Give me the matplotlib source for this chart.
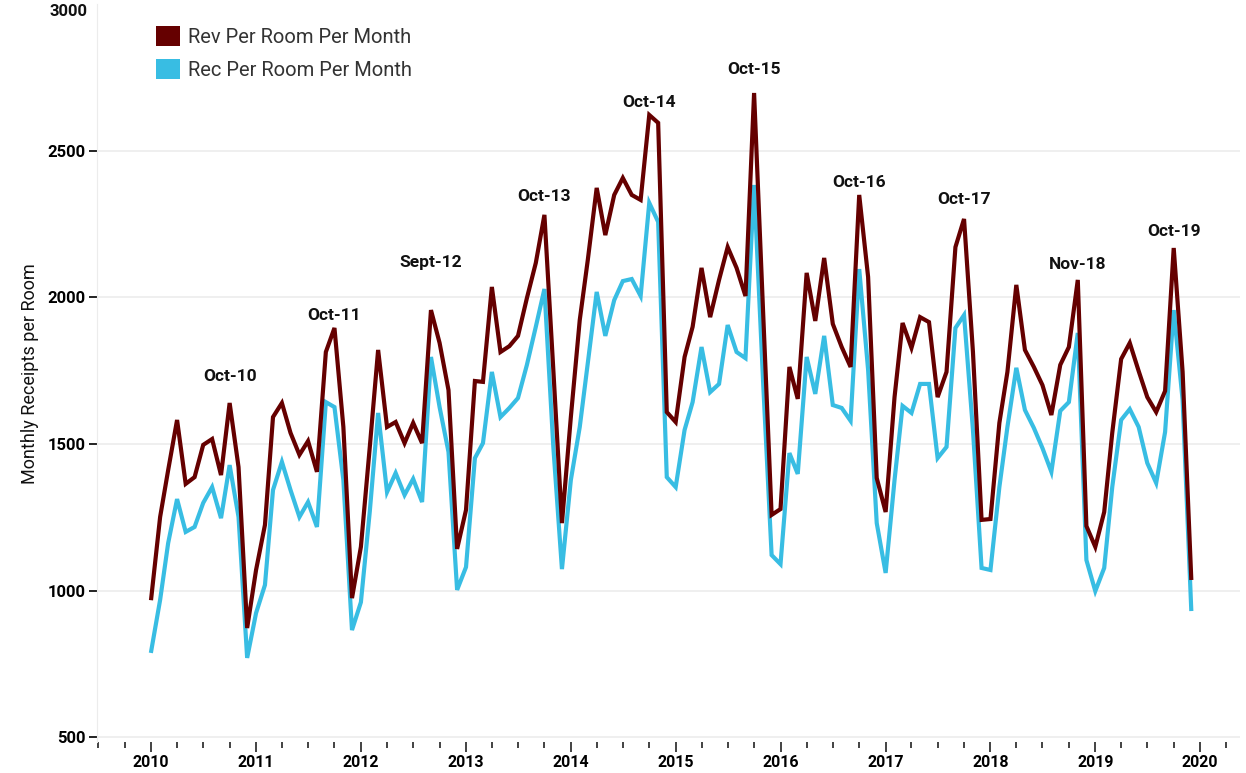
import matplotlib
matplotlib.use("Agg")
import matplotlib.pyplot as plt
import matplotlib.dates as mdates
from matplotlib.patches import Patch
import pandas as pd

# monthly values, Jan 2010 .. Dec 2019
months = pd.date_range("2010-01-01", periods=120, freq="MS")

rev = [
    974, 1251, 1411, 1582, 1364, 1387, 1497, 1517, 1394, 1640, 1421, 872,      # 2010
    1070, 1224, 1592, 1640, 1538, 1463, 1510, 1405, 1814, 1896, 1558, 974,     # 2011
    1149, 1490, 1821, 1558, 1575, 1503, 1572, 1503, 1957, 1845, 1684, 1142,    # 2012
    1275, 1715, 1712, 2036, 1814, 1834, 1869, 1998, 2118, 2282, 1753, 1230,    # 2013
    1592, 1923, 2128, 2374, 2213, 2350, 2408, 2350, 2333, 2623, 2596, 1609,    # 2014
    1575, 1797, 1900, 2101, 1933, 2060, 2172, 2101, 2005, 2698, 1960, 1258,    # 2015
    1278, 1763, 1654, 2084, 1920, 2135, 1910, 1831, 1763, 2350, 2070, 1384,    # 2016
    1268, 1660, 1913, 1828, 1933, 1916, 1660, 1746, 2172, 2268, 1814, 1241,    # 2017
    1244, 1572, 1746, 2043, 1821, 1763, 1701, 1599, 1770, 1831, 2060, 1220,    # 2018
    1149, 1268, 1538, 1790, 1845, 1749, 1660, 1609, 1681, 2169, 1746, 1043,    # 2019
]

rec = [
    794, 968, 1162, 1312, 1200, 1217, 1299, 1353, 1247, 1428, 1251, 770,       # 2010
    923, 1019, 1343, 1439, 1343, 1251, 1302, 1217, 1643, 1626, 1377, 865,      # 2011
    960, 1270, 1606, 1336, 1401, 1326, 1381, 1302, 1797, 1626, 1473, 1002,     # 2012
    1080, 1452, 1503, 1746, 1592, 1623, 1657, 1770, 1900, 2029, 1490, 1073,    # 2013
    1377, 1558, 1776, 2019, 1869, 1991, 2056, 2063, 2005, 2323, 2258, 1387,    # 2014
    1353, 1548, 1643, 1831, 1677, 1705, 1906, 1814, 1793, 2384, 1720, 1121,    # 2015
    1090, 1469, 1398, 1797, 1671, 1869, 1633, 1623, 1579, 2097, 1753, 1230,    # 2016
    1060, 1377, 1630, 1606, 1705, 1705, 1452, 1490, 1896, 1940, 1548, 1077,    # 2017
    1070, 1353, 1558, 1760, 1616, 1555, 1486, 1405, 1613, 1643, 1879, 1104,    # 2018
    998, 1077, 1353, 1582, 1619, 1558, 1435, 1367, 1541, 1957, 1650, 937,      # 2019
]

# peak labels: month, text, height of the text
peak_months = ["2010-10", "2011-10", "2012-09", "2013-10", "2014-10",
               "2015-10", "2016-10", "2017-10", "2018-11", "2019-10"]
peak_labels = ["Oct-10", "Oct-11", "Sept-12", "Oct-13", "Oct-14",
               "Oct-15", "Oct-16", "Oct-17", "Nov-18", "Oct-19"]
peak_text_y = [1729, 1940, 2121, 2343, 2664, 2777, 2394, 2333, 2114, 2224]

rev_color = "#650000"
rec_color = "#38BDE3"

plt.rcParams['font.family'] = ['Roboto', 'DejaVu Sans']

fig = plt.figure(figsize=(12.46, 7.73), dpi=100)
ax = fig.add_axes([0.0778, 0.0401, 0.9172, 0.9541])

ax.plot(months, rev, color=rev_color, linewidth=3, solid_joinstyle="miter", zorder=3)
ax.plot(months, rec, color=rec_color, linewidth=3, solid_joinstyle="miter", zorder=2)

for m, lab, ty in zip(peak_months, peak_labels, peak_text_y):
    ax.text(pd.Timestamp(m + "-01"), ty, lab, ha="center", va="center",
            fontsize=12.5, fontweight="bold", color="#111111", zorder=4)

ax.set_xlim(pd.Timestamp("2009-06-26"), pd.Timestamp("2020-05-18"))
ax.set_ylim(483, 3000)

ax.set_yticks([500, 1000, 1500, 2000, 2500])
ax.yaxis.grid(True, color="#ececec", linewidth=1.2)
ax.set_axisbelow(True)
ax.tick_params(axis="y", length=6, width=1.3, color="#111111", labelsize=12, pad=2)
for t in ax.get_yticklabels():
    t.set_fontweight("bold")
ax.text(-0.008, 1.0, "3000", transform=ax.transAxes, ha="right", va="top",
        fontsize=12, fontweight="bold", color="#111111")

ax.xaxis.set_major_locator(mdates.YearLocator())
ax.xaxis.set_major_formatter(mdates.DateFormatter("%Y"))
ax.xaxis.set_minor_locator(mdates.MonthLocator(bymonth=[1, 4, 7, 10]))
ax.tick_params(axis="x", which="major", length=7, width=1.2, color="#222222",
               labelsize=11.5, pad=2)
ax.tick_params(axis="x", which="minor", length=4, width=1.2, color="#222222")
for t in ax.get_xticklabels():
    t.set_fontweight("bold")

for s in ["top", "right", "bottom"]:
    ax.spines[s].set_visible(False)
ax.spines["left"].set_color("#ececec")

ax.set_ylabel("Monthly Receipts per Room", fontsize=13, color="#111111", labelpad=6)

handles = [Patch(facecolor=rev_color, edgecolor="none", label="Rev Per Room Per Month"),
           Patch(facecolor=rec_color, edgecolor="none", label="Rec Per Room Per Month")]
ax.legend(handles=handles, loc="upper left", bbox_to_anchor=(0.036, 0.996), frameon=False,
          fontsize=14.5, handlelength=1.2, handleheight=1.2, handletextpad=0.4,
          labelspacing=0.6, labelcolor="#333333")

plt.savefig("out.png", dpi=100)
